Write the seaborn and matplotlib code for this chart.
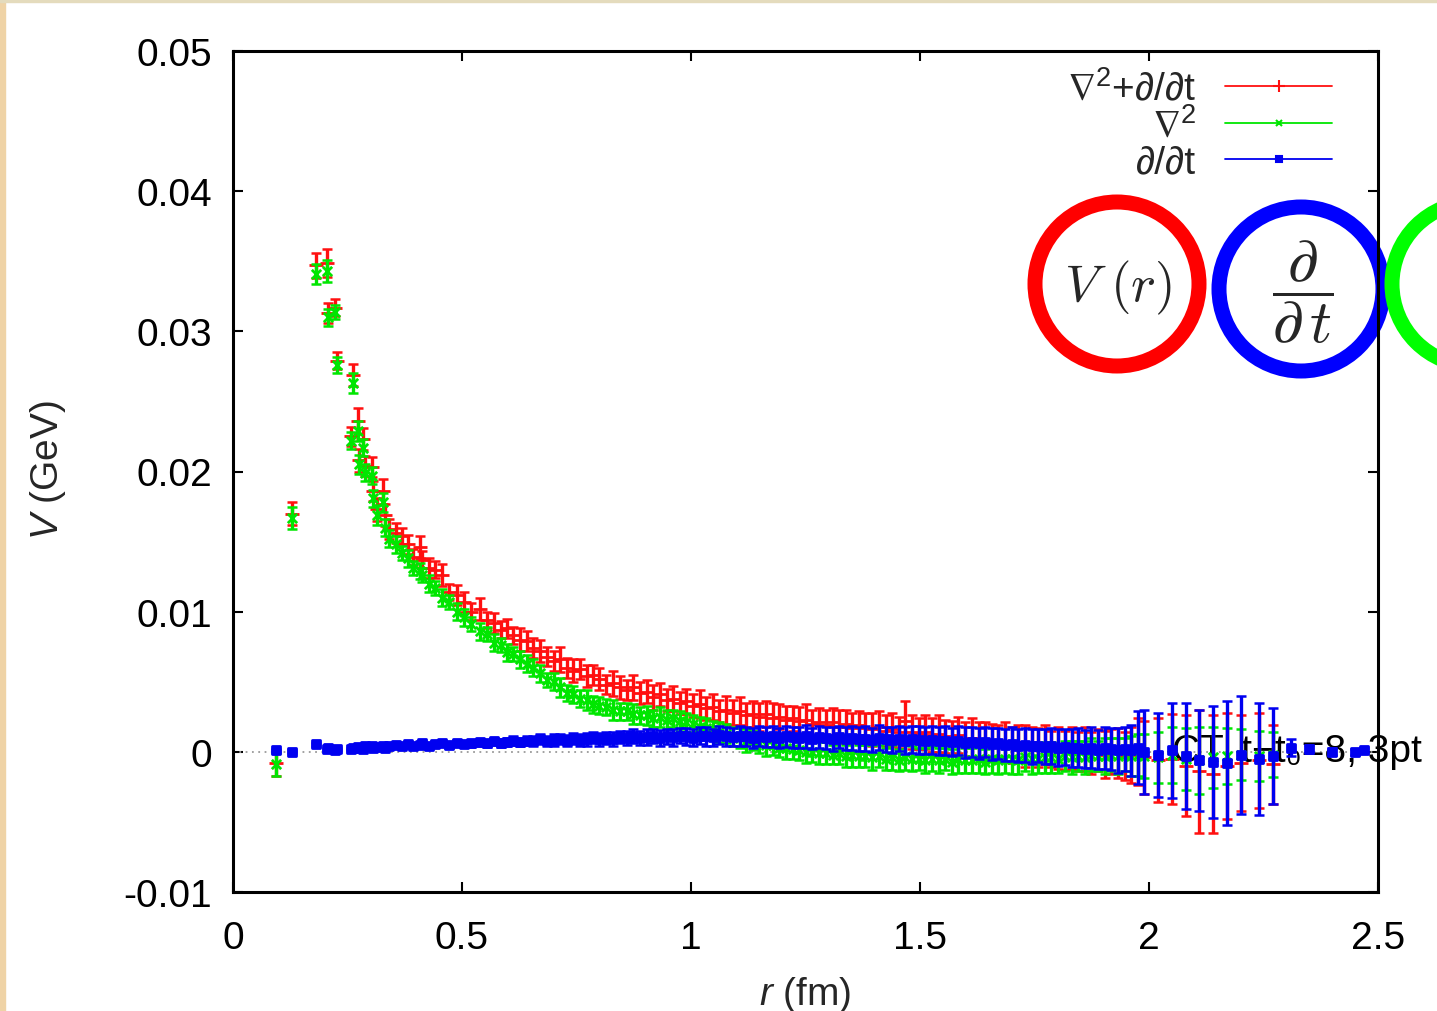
import numpy as np
import pandas as pd
import matplotlib
matplotlib.use("Agg")
import matplotlib.pyplot as plt
import seaborn as sns
from matplotlib.patches import Circle, Rectangle
from matplotlib.lines import Line2D
from matplotlib.transforms import Affine2D

W, H = 1437, 1012
nan = np.nan

# --- data: r in fm, V in MeV (converted to GeV below) ---
r_fm = [
    0.094, 0.129, 0.181, 0.205, 0.208, 0.223, 0.226, 0.258, 0.261, 0.273,
    0.276, 0.284, 0.288, 0.303, 0.306, 0.314, 0.328, 0.332, 0.341, 0.355,
    0.369, 0.382, 0.393, 0.408, 0.413, 0.428, 0.441, 0.456, 0.472, 0.489,
    0.505, 0.520, 0.539, 0.555, 0.570, 0.585, 0.598, 0.612, 0.627, 0.642,
    0.656, 0.671, 0.686, 0.700, 0.715, 0.729, 0.743, 0.758, 0.772, 0.786,
    0.800, 0.815, 0.830, 0.845, 0.860, 0.874, 0.889, 0.904, 0.918, 0.932,
    0.947, 0.961, 0.975, 0.990, 1.004, 1.019, 1.033, 1.048, 1.062, 1.077,
    1.091, 1.106, 1.120, 1.135, 1.149, 1.164, 1.178, 1.193, 1.207, 1.222,
    1.236, 1.251, 1.265, 1.280, 1.294, 1.309, 1.323, 1.338, 1.352, 1.367,
    1.381, 1.396, 1.410, 1.425, 1.439, 1.454, 1.468, 1.483, 1.497, 1.512,
    1.526, 1.541, 1.555, 1.570, 1.584, 1.599, 1.613, 1.628, 1.642, 1.657,
    1.671, 1.686, 1.700, 1.715, 1.729, 1.744, 1.758, 1.773, 1.787, 1.802,
    1.816, 1.831, 1.845, 1.860, 1.874, 1.889, 1.903, 1.918, 1.932, 1.947,
    1.961, 1.976, 1.990, 2.020, 2.050, 2.080, 2.110, 2.140, 2.170, 2.200,
    2.240, 2.270, 2.310, 2.350, 2.400, 2.450, 2.470,
]

# nabla^2 + d/dt (red)
v_full = [
    -0.8, 17.0, 34.7, 34.9, 31.3, 31.7, 27.9, 22.5, 26.9, 23.6,
    20.8, 22.3, 20.4, 20.3, 18.6, 17.3, 18.6, 16.9, 15.9, 15.6,
    15.4, 14.8, 13.9, 14.6, 13.7, 13.1, 13.0, 12.6, 11.4, 11.2,
    10.7, 10.0, 10.2, 9.4, 9.2, 8.7, 8.8, 8.3, 8.0, 7.9,
    7.4, 7.2, 6.8, 6.5, 6.6, 6.0, 5.8, 5.9, 5.4, 5.5,
    5.2, 4.8, 4.9, 4.6, 4.4, 4.6, 4.2, 4.3, 3.9, 4.1,
    3.7, 3.8, 3.5, 3.6, 3.3, 3.4, 3.1, 3.2, 2.9, 3.0,
    2.8, 2.9, 2.6, 2.7, 2.5, 2.7, 2.4, 2.5, 2.3, 2.4,
    2.2, 2.3, 2.0, 2.1, 1.9, 2.1, 1.8, 2.0, 1.7, 1.9,
    1.7, 1.6, 1.8, 1.5, 1.6, 1.4, 2.2, 1.4, 1.3, 1.4,
    1.2, 1.3, 1.1, 1.0, 1.2, 0.9, 1.0, 0.8, 0.9, 0.7,
    0.6, 0.7, 0.5, 0.6, 0.4, 0.5, 0.3, 0.5, 0.2, 0.3,
    0.1, 0.3, 0.0, 0.2, -0.1, 0.1, -0.2, 0.0, -0.1, -0.3,
    -0.2, 0.0, -0.4, -0.6, -0.5, -1.0, -1.4, -1.6, -1.0, -0.8,
    -0.6, -0.9, nan, nan, nan, nan, nan,
]
err_full = [
    0.9, 0.8, 0.9, 1.0, 0.7, 0.6, 0.6, 0.7, 0.8, 0.9,
    0.8, 0.8, 0.7, 0.7, 0.7, 0.8, 0.9, 0.8, 0.7, 0.7,
    0.6, 0.7, 0.6, 0.8, 0.6, 0.7, 0.6, 0.8, 0.6, 0.7,
    0.7, 0.6, 0.8, 0.6, 0.7, 0.6, 0.7, 0.6, 0.8, 0.7,
    0.7, 0.8, 0.7, 0.7, 0.9, 0.7, 0.8, 0.7, 0.8, 0.7,
    0.8, 0.7, 0.9, 0.8, 0.7, 0.9, 0.8, 0.8, 0.9, 0.8,
    0.8, 0.9, 0.8, 0.9, 0.8, 1.0, 0.8, 0.9, 0.8, 1.0,
    0.9, 1.0, 0.9, 0.9, 1.0, 0.9, 1.1, 0.9, 1.0, 0.9,
    1.0, 1.1, 1.0, 1.0, 1.1, 1.0, 1.2, 1.0, 1.1, 1.0,
    1.1, 1.2, 1.1, 1.1, 1.2, 1.1, 1.4, 1.2, 1.1, 1.2,
    1.2, 1.3, 1.2, 1.2, 1.3, 1.2, 1.4, 1.3, 1.2, 1.3,
    1.3, 1.4, 1.3, 1.3, 1.5, 1.3, 1.4, 1.4, 1.3, 1.5,
    1.4, 1.5, 1.4, 1.6, 1.5, 1.5, 1.7, 1.6, 1.8, 1.7,
    2.0, 2.4, 2.6, 3.0, 3.2, 3.6, 4.4, 4.2, 3.8, 3.4,
    3.4, 2.8, nan, nan, nan, nan, nan,
]

# nabla^2 only (green)
v_lap = [
    -0.9, 16.7, 34.1, 34.3, 31.0, 31.4, 27.6, 22.2, 26.3, 22.9,
    20.5, 21.7, 19.9, 19.7, 18.1, 16.9, 17.8, 16.0, 15.2, 14.8,
    14.2, 13.8, 13.1, 12.9, 12.6, 12.0, 11.7, 11.0, 10.7, 10.0,
    9.6, 9.1, 8.6, 8.4, 7.8, 7.6, 7.1, 7.0, 6.6, 6.3,
    6.0, 5.6, 5.1, 5.0, 4.6, 4.2, 4.1, 3.8, 3.7, 3.4,
    3.3, 3.2, 3.0, 2.9, 2.9, 2.7, 2.6, 2.6, 2.4, 2.5,
    2.3, 2.4, 2.2, 2.1, 2.0, 1.8, 1.7, 1.6, 1.4, 1.3,
    1.1, 1.0, 0.8, 0.8, 0.6, 0.5, 0.5, 0.3, 0.3, 0.2,
    0.1, 0.0, 0.0, -0.1, -0.1, -0.2, -0.1, -0.3, -0.2, -0.3,
    -0.3, -0.4, -0.3, -0.5, -0.4, -0.6, -0.4, -0.5, -0.5, -0.6,
    -0.5, -0.6, -0.5, -0.7, -0.5, -0.6, -0.6, -0.5, -0.7, -0.5,
    -0.6, -0.5, -0.5, -0.6, -0.4, -0.5, -0.5, -0.4, -0.4, -0.5,
    -0.3, -0.4, -0.3, -0.4, -0.2, -0.3, -0.3, -0.2, -0.3, -0.2,
    -0.3, -0.2, -0.3, -0.4, -0.2, -0.5, -0.6, -0.4, -0.3, -0.2,
    -0.3, -0.2, nan, nan, nan, nan, nan,
]
err_lap = [
    0.8, 0.8, 0.7, 0.8, 0.6, 0.5, 0.6, 0.6, 0.7, 0.7,
    0.7, 0.6, 0.6, 0.6, 0.6, 0.7, 0.7, 0.6, 0.6, 0.6,
    0.5, 0.6, 0.5, 0.6, 0.5, 0.6, 0.5, 0.6, 0.5, 0.6,
    0.6, 0.5, 0.6, 0.5, 0.6, 0.5, 0.6, 0.5, 0.6, 0.6,
    0.6, 0.6, 0.5, 0.6, 0.7, 0.6, 0.6, 0.6, 0.7, 0.6,
    0.6, 0.6, 0.7, 0.6, 0.6, 0.7, 0.6, 0.7, 0.6, 0.7,
    0.7, 0.6, 0.7, 0.7, 0.6, 0.7, 0.7, 0.6, 0.7, 0.7,
    0.7, 0.7, 0.8, 0.7, 0.7, 0.8, 0.7, 0.7, 0.8, 0.7,
    0.7, 0.8, 0.7, 0.8, 0.8, 0.7, 0.8, 0.8, 0.9, 0.8,
    0.8, 0.9, 0.8, 0.8, 0.9, 0.8, 0.9, 0.9, 0.8, 0.9,
    0.9, 0.9, 0.8, 0.9, 1.0, 0.9, 0.9, 1.0, 0.9, 1.0,
    1.0, 1.0, 1.1, 1.0, 1.0, 1.1, 1.0, 1.1, 1.1, 1.0,
    1.1, 1.2, 1.1, 1.2, 1.2, 1.1, 1.3, 1.2, 1.3, 1.2,
    1.4, 1.5, 1.6, 1.8, 2.0, 2.2, 2.4, 2.2, 2.0, 1.8,
    1.8, 1.6, nan, nan, nan, nan, nan,
]

# d/dt only (blue)
v_dt = [
    0.1, 0.0, 0.55, 0.2, 0.25, 0.1, 0.2, 0.2, 0.3, 0.35,
    0.3, 0.2, 0.4, 0.4, 0.3, 0.35, 0.45, 0.3, 0.45, 0.5,
    0.4, 0.55, 0.45, 0.5, 0.6, 0.45, 0.55, 0.6, 0.5, 0.65,
    0.55, 0.6, 0.7, 0.6, 0.75, 0.65, 0.7, 0.8, 0.7, 0.8,
    0.75, 0.9, 0.8, 0.85, 0.9, 0.8, 0.95, 0.85, 0.9, 1.0,
    0.9, 1.0, 0.95, 1.05, 1.0, 1.1, 1.0, 1.05, 1.15, 1.0,
    1.1, 1.05, 1.15, 1.1, 1.0, 1.15, 1.1, 1.05, 1.2, 1.1,
    1.05, 1.15, 1.1, 1.0, 1.15, 1.05, 1.1, 1.0, 1.1, 1.05,
    1.0, 1.1, 0.95, 1.05, 1.0, 0.9, 1.05, 0.95, 1.0, 0.9,
    0.95, 0.85, 1.0, 0.9, 0.85, 0.95, 0.8, 0.9, 0.85, 0.8,
    0.85, 0.75, 0.8, 0.7, 0.8, 0.65, 0.7, 0.6, 0.7, 0.55,
    0.6, 0.5, 0.55, 0.45, 0.5, 0.4, 0.45, 0.35, 0.4, 0.3,
    0.35, 0.25, 0.3, 0.2, 0.3, 0.15, 0.25, 0.2, 0.1, 0.2,
    0.1, 0.3, 0.0, -0.2, 0.1, -0.3, -0.6, -0.7, -0.8, -0.2,
    -0.5, -0.3, 0.3, 0.2, 0.0, 0.0, 0.1,
]
err_dt = [
    0.1, 0.1, 0.1, 0.1, 0.1, 0.1, 0.1, 0.1, 0.1, 0.1,
    0.1, 0.1, 0.1, 0.1, 0.1, 0.1, 0.1, 0.1, 0.15, 0.15,
    0.15, 0.15, 0.15, 0.15, 0.2, 0.2, 0.2, 0.2, 0.2, 0.2,
    0.2, 0.25, 0.25, 0.25, 0.25, 0.3, 0.3, 0.3, 0.3, 0.3,
    0.35, 0.35, 0.35, 0.4, 0.35, 0.4, 0.4, 0.4, 0.45, 0.4,
    0.45, 0.45, 0.5, 0.45, 0.5, 0.5, 0.5, 0.55, 0.5, 0.55,
    0.55, 0.6, 0.55, 0.6, 0.6, 0.6, 0.65, 0.6, 0.65, 0.65,
    0.65, 0.7, 0.65, 0.7, 0.7, 0.7, 0.75, 0.7, 0.75, 0.75,
    0.75, 0.8, 0.75, 0.8, 0.8, 0.85, 0.8, 0.85, 0.85, 0.85,
    0.9, 0.85, 0.9, 0.9, 0.95, 0.9, 0.95, 0.95, 1.0, 0.95,
    1.0, 1.0, 1.05, 1.0, 1.05, 1.1, 1.05, 1.1, 1.1, 1.15,
    1.1, 1.15, 1.2, 1.15, 1.2, 1.25, 1.2, 1.25, 1.3, 1.3,
    1.3, 1.35, 1.4, 1.35, 1.45, 1.4, 1.5, 1.5, 1.6, 1.6,
    1.8, 2.6, 3.0, 3.0, 3.4, 3.8, 3.6, 4.0, 4.4, 4.2,
    4.0, 3.4, 0.6, 0.3, 0.25, 0.2, 0.2,
]

labels = ["$\\nabla^2$+\u2202/\u2202t", "$\\nabla^2$", "\u2202/\u2202t"]
colors = ["#ff1010", "#00e600", "#0000f0"]
markers = ["+", "x", "s"]
marker_sizes = [110, 45, 36]

x_ticks = [0, 0.5, 1, 1.5, 2, 2.5]
x_tick_labels = ["0", "0.5", "1", "1.5", "2", "2.5"]
y_ticks = [-0.01, 0, 0.01, 0.02, 0.03, 0.04, 0.05]
y_tick_labels = ["-0.01", "0", "0.01", "0.02", "0.03", "0.04", "0.05"]

df = pd.DataFrame({
    "r": r_fm,
    "full": np.array(v_full) * 1e-3, "full_err": np.array(err_full) * 1e-3,
    "lap": np.array(v_lap) * 1e-3, "lap_err": np.array(err_lap) * 1e-3,
    "dt": np.array(v_dt) * 1e-3, "dt_err": np.array(err_dt) * 1e-3,
})

sns.set_style("ticks")
plt.rcParams["font.family"] = ["Liberation Sans", "DejaVu Sans"]
plt.rcParams["mathtext.fontset"] = "custom"
plt.rcParams["mathtext.rm"] = "Liberation Sans"
plt.rcParams["mathtext.it"] = "Liberation Sans:italic"
plt.rcParams["mathtext.fallback"] = "stixsans"

fig = plt.figure(figsize=(W / 100, H / 100), dpi=100)
ax = fig.add_axes([233 / W, 1 - 893 / H, (1378 - 233) / W, (893 - 52) / H])
px = Affine2D().scale(1, -1).translate(0, H)  # pixel coords, origin at top-left

ax.axhline(0, color="#9a9a9a", ls=(0, (1, 2.5)), lw=1.3, zorder=1)

# text hidden behind the data on the right
ax.text(1422, 752, "CT, t\u2212t\u2080=8, 3pt", transform=px, ha="right", va="center",
        fontsize=28, color="black", zorder=2.2, clip_on=False)

for i, key in enumerate(["full", "lap", "dt"]):
    sub = df[["r", key, key + "_err"]].dropna()
    z = 3 + i
    ax.errorbar(sub["r"], sub[key], yerr=sub[key + "_err"], fmt="none",
                ecolor=colors[i], elinewidth=2.4, capsize=3.5, capthick=1.8, zorder=z)
    extra = {"edgecolor": colors[i]} if markers[i] == "s" else {}
    sns.scatterplot(x=sub["r"], y=sub[key], marker=markers[i], s=marker_sizes[i],
                    color=colors[i], linewidth=2.0, ax=ax, legend=False,
                    zorder=z + 0.5, **extra)

ax.set_xticks(x_ticks)
ax.set_xticklabels(x_tick_labels)
ax.set_yticks(y_ticks)
ax.set_yticklabels(y_tick_labels)
ax.tick_params(direction="in", length=7, width=1.5, top=True, right=True,
               labelsize=28, colors="black")
ax.tick_params(axis="x", pad=20)
ax.tick_params(axis="y", pad=15)
for sp in ax.spines.values():
    sp.set_linewidth(2.2)
    sp.set_color("black")

ax.set_ylabel(r"$V$ (GeV)", fontsize=28)
ax.yaxis.set_label_coords(-0.144, 0.503)
ax.set_xlabel(r"$r$ (fm)", fontsize=28)
ax.xaxis.set_label_coords(0.5, -0.097)

handles = [Line2D([], [], color=colors[i], lw=1.3, marker=markers[i],
                  ms=[8, 5, 4][i], mew=1.5) for i in range(3)]
ax.legend(handles, labels, loc="upper right", bbox_to_anchor=(0.960, 0.978),
          frameon=False, markerfirst=False, numpoints=1, fontsize=28,
          handlelength=2.75, handletextpad=0.75, labelspacing=0.0,
          borderpad=0, borderaxespad=0)

# annotation rings
rings = [(1117, 285, "#ff0000"), (1301, 290, "#0000ff"), (1474, 285, "#00ff00")]
for cx, cy, col in rings:
    ax.add_patch(Circle((cx, cy), 82, transform=px, fill=False, lw=10.8,
                        ec=col, clip_on=False, zorder=2))
ax.text(1118, 288, r"$V\,\,(r)$", transform=px, ha="center", va="center",
        fontsize=38, math_fontfamily="cm", zorder=6)
ax.text(1303, 292, r"$\dfrac{\partial}{\partial\,t}$", transform=px, ha="center",
        va="center", fontsize=44, math_fontfamily="cm", zorder=6)
ax.set_xlim(0, 2.5)
ax.set_ylim(-0.01, 0.05)

# page edges
fig.add_artist(Rectangle((0, 0), 5, H, transform=px, color="#efd3a6", zorder=10))
fig.add_artist(Rectangle((0, 0), W, 3, transform=px, color="#e4dbbd", zorder=10))

fig.savefig("out.png", dpi=100)
